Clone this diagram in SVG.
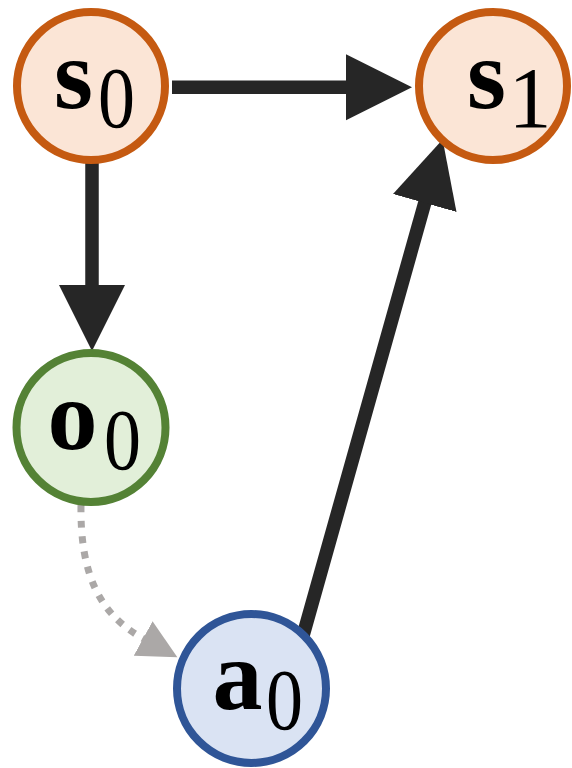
<svg xmlns="http://www.w3.org/2000/svg" width="572" height="768" viewBox="0 0 572 768">
<style>
.edge{fill:none;stroke:#262626;stroke-width:13.5}
.dot{fill:none;stroke:#ABA8A7;stroke-width:7;stroke-dasharray:7 8.5}
.node{stroke-width:8}
.s{fill:#FBE5D6;stroke:#C55A11}
.o{fill:#E2EFD9;stroke:#548235}
.a{fill:#DAE3F3;stroke:#2F5597}
text{font-family:'Liberation Serif',serif;fill:#000}
.v{font-weight:bold;font-size:100px}
.sub{font-weight:normal;font-size:86px}
</style>
<defs>
<marker id="ah" markerUnits="userSpaceOnUse" markerWidth="67" markerHeight="67" refX="1" refY="33" orient="auto" viewBox="0 0 67 66">
<path d="M0,0 L66,33 L0,66 z" fill="#262626"/>
</marker>
<marker id="ahg" markerUnits="userSpaceOnUse" markerWidth="40" markerHeight="40" refX="1" refY="19.7" orient="auto" viewBox="0 0 40 39.4">
<path d="M0,0 L39,19.7 L0,39.4 z" fill="#ABA8A7"/>
</marker>
</defs>
<g id="connectors">
<line class="edge" x1="172" y1="87.3" x2="347" y2="87.3" marker-end="url(#ah)"/>
<line class="edge" x1="92" y1="160" x2="92" y2="286" marker-end="url(#ah)"/>
<line class="edge" x1="301.8" y1="640" x2="425" y2="202" marker-end="url(#ah)"/>
<path class="dot" d="M81,505 C80,575 100,615 144,639" marker-end="url(#ahg)"/>
</g>
<g id="s0">
<circle class="node s" cx="91" cy="86" r="74"/>
<text class="v" x="54" y="108" font-family="Liberation Serif">s</text>
<text class="sub" x="98" y="127" font-family="Liberation Serif" textLength="37" lengthAdjust="spacingAndGlyphs">0</text>
</g>
<g id="s1">
<circle class="node s" cx="493" cy="86" r="74"/>
<text class="v" x="467" y="108" font-family="Liberation Serif">s</text>
<text class="sub" x="508.5" y="127" font-family="Liberation Serif">1</text>
</g>
<g id="o0">
<circle class="node o" cx="91" cy="427.5" r="74.5"/>
<text class="v" x="47.5" y="449" font-family="Liberation Serif">o</text>
<text class="sub" x="104" y="469" font-family="Liberation Serif" textLength="37" lengthAdjust="spacingAndGlyphs">0</text>
</g>
<g id="a0">
<circle class="node a" cx="251.5" cy="688.5" r="74.5"/>
<text class="v" x="212.5" y="709" font-family="Liberation Serif">a</text>
<text class="sub" x="266" y="729" font-family="Liberation Serif" textLength="37" lengthAdjust="spacingAndGlyphs">0</text>
</g>
</svg>
